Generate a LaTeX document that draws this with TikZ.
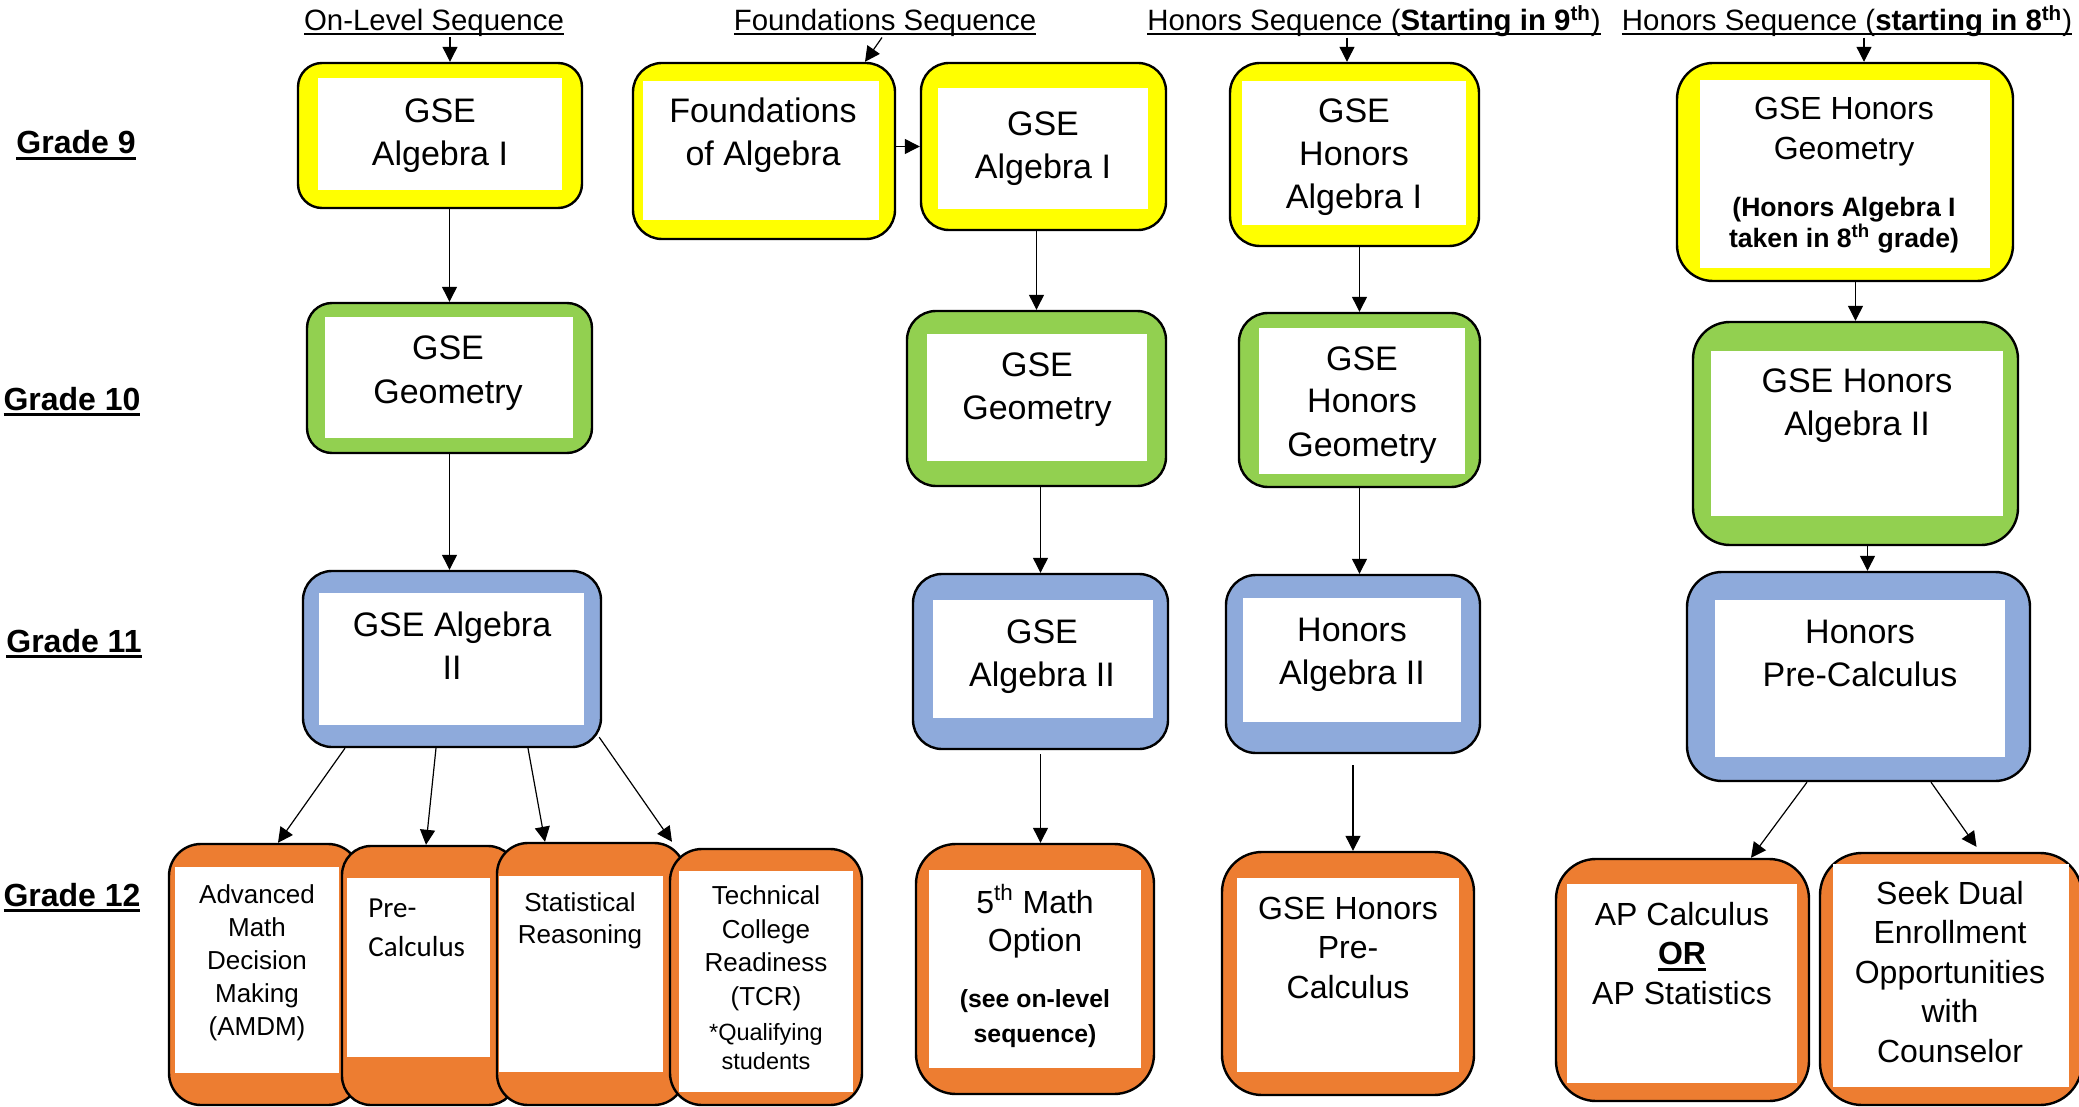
\documentclass[tikz,border=0pt]{standalone}
\usepackage{fontspec}
\setmainfont{Liberation Sans}
\newfontfamily\calfont{Carlito}
\usetikzlibrary{fit,arrows.meta}
\definecolor{gsyellow}{HTML}{FFFF00}
\definecolor{gsgreen}{HTML}{92D050}
\definecolor{gsblue}{HTML}{8EAADB}
\definecolor{gsorange}{HTML}{ED7D31}
\newsavebox\ulbox
\newcommand\ulx[3]{\sbox\ulbox{#3}\rlap{\rule[-#1]{\wd\ulbox}{#2}}\usebox\ulbox}
\newcommand\headul[1]{\ulx{2.2pt}{1pt}{#1}}
\newcommand\gradeul[1]{\ulx{3pt}{1.3pt}{#1}}
\newcommand\orul[1]{\ulx{3.2pt}{1.5pt}{#1}}
\tikzset{
	course/.style n args={2}{draw=black, line width=1.2pt, fill=#1, rounded corners=#2, inner sep=0pt},
	pane/.style={fill=white, inner sep=0pt},
	txt/.style={align=center, anchor=base, inner sep=0pt, font=\fontsize{17}{21.5}\selectfont},
	small/.style={txt, font=\fontsize{13}{16.5}\selectfont},
	lower/.style={txt, font=\fontsize{16}{19.75}\selectfont},
	note/.style={txt, font=\bfseries\fontsize{13.3}{15.5}\selectfont},
	head/.style={anchor=base, inner sep=0pt, font=\fontsize{14.7}{17}\selectfont},
	grade/.style={anchor=base, inner sep=0pt, font=\bfseries\fontsize{16}{19}\selectfont},
	arr/.style={-{Triangle[length=7.5pt,width=7.5pt]}, line width=0.6pt},
}

\begin{document}
\begin{tikzpicture}[x=0.5pt,y=-0.5pt]
	\useasboundingbox (0,0) rectangle (2079,1107);

	% sequence headings
	\node[head] (hol) at (434,31) {\headul{On-Level Sequence}};
	\node[head] (hfd) at (885,31) {\headul{Foundations Sequence}};
	\node[head] (hh9) at (1374,31) {\headul{Honors Sequence (\textbf{Starting in 9\textsuperscript{th}})}};
	\node[head] (hh8) at (1847,31) {\headul{Honors Sequence (\textbf{starting in 8\textsuperscript{th}})}};

	% grade labels
	\node[grade] (gr9) at (76,154) {\gradeul{Grade 9}};
	\node[grade] (gr10) at (72,410) {\gradeul{Grade 10}};
	\node[grade] (gr11) at (74,652) {\gradeul{Grade 11}};
	\node[grade] (gr12) at (72,906) {\gradeul{Grade 12}};

	% grade 9 (text placed at the baseline of its last line)
	\node[course={gsyellow}{12pt}, fit={(298,63) (582,208)}] (alg1) {};
	\node[pane, fit={(318,78) (562,190)}] (alg1w) {};
	\node[txt] (alg1t) at (440,166) {GSE\\Algebra I};

	\node[course={gsyellow}{14.5pt}, fit={(633,63) (895,239)}] (fnd) {};
	\node[pane, fit={(643,81) (879,220)}] (fndw) {};
	\node[txt] (fndt) at (763,166) {Foundations\\of Algebra};

	\node[course={gsyellow}{14pt}, fit={(921,63) (1166,230)}] (falg1) {};
	\node[pane, fit={(938,88) (1148,209)}] (falg1w) {};
	\node[txt] (falg1t) at (1043,179) {GSE\\Algebra I};

	\node[course={gsyellow}{15pt}, fit={(1230,63) (1479,246)}] (halg1) {};
	\node[pane, fit={(1242,81) (1466,225)}] (halg1w) {};
	\node[txt] (halg1t) at (1354,209) {GSE\\Honors\\Algebra I};

	\node[course={gsyellow}{18pt}, fit={(1677,63) (2013,281)}] (hgeo8) {};
	\node[pane, fit={(1700,80) (1990,268)}] (hgeo8w) {};
	\node[txt, font=\fontsize{16}{20}\selectfont] (hgeo8t) at (1844,160) {GSE Honors\\Geometry};
	\node[note] (hgeo8n) at (1844,248) {(Honors Algebra I\\taken in 8\textsuperscript{th} grade)};

	% grade 10
	\node[course={gsgreen}{12.5pt}, fit={(307,303) (592,453)}] (geo) {};
	\node[pane, fit={(325,317) (573,438)}] (geow) {};
	\node[txt] (geot) at (448,403) {GSE\\Geometry};

	\node[course={gsgreen}{14.5pt}, fit={(907,311) (1166,486)}] (fgeo) {};
	\node[pane, fit={(927,334) (1147,461)}] (fgeow) {};
	\node[txt] (fgeot) at (1037,420) {GSE\\Geometry};

	\node[course={gsgreen}{14.5pt}, fit={(1239,313) (1480,487)}] (hgeo) {};
	\node[pane, fit={(1259,328) (1465,474)}] (hgeow) {};
	\node[txt] (hgeot) at (1362,456) {GSE\\Honors\\Geometry};

	\node[course={gsgreen}{18.5pt}, fit={(1693,322) (2018,545)}] (halg2h) {};
	\node[pane, fit={(1711,351) (2003,516)}] (halg2hw) {};
	\node[txt] (halg2ht) at (1857,436) {GSE Honors\\Algebra II};

	% grade 11
	\node[course={gsblue}{14.5pt}, fit={(303,571) (601,747)}] (alg2) {};
	\node[pane, fit={(319,593) (584,725)}] (alg2w) {};
	\node[txt] (alg2t) at (452,679) {GSE Algebra\\II};

	\node[course={gsblue}{14.5pt}, fit={(913,574) (1168,749)}] (falg2) {};
	\node[pane, fit={(933,600) (1153,718)}] (falg2w) {};
	\node[txt] (falg2t) at (1042,686) {GSE\\Algebra II};

	\node[course={gsblue}{15pt}, fit={(1226,575) (1480,753)}] (halg2) {};
	\node[pane, fit={(1243,598) (1461,722)}] (halg2w) {};
	\node[txt] (halg2t) at (1352,684) {Honors\\Algebra II};

	\node[course={gsblue}{17.5pt}, fit={(1687,572) (2030,781)}] (hpre) {};
	\node[pane, fit={(1715,600) (2005,757)}] (hprew) {};
	\node[txt] (hpret) at (1860,686) {Honors\\Pre-Calculus};

	% grade 12
	\node[course={gsorange}{16pt}, fit={(169,844) (360,1105)}] (amdm) {};
	\node[pane, fit={(175,867) (339,1073)}] (amdmw) {};
	\node[small] (amdmt) at (257,1035) {Advanced\\Math\\Decision\\Making\\(AMDM)};

	\node[course={gsorange}{14.5pt}, fit={(342,846) (517,1105)}] (pre) {};
	\node[pane, fit={(347,878) (490,1057)}] (prew) {};
	\node[align=left, anchor=base west, inner sep=0pt, font=\calfont\fontsize{14.5}{19.5}\selectfont] (pret) at (368,956) {Pre-\\Calculus};

	\node[course={gsorange}{15.5pt}, fit={(497,843) (685,1105)}] (stat) {};
	\node[pane, fit={(499,876) (663,1072)}] (statw) {};
	\node[small, font=\fontsize{13}{16}\selectfont] (statt) at (580,943) {Statistical\\Reasoning};

	\node[course={gsorange}{16pt}, fit={(670,849) (862,1105)}] (tcr) {};
	\node[pane, fit={(679,871) (853,1092)}] (tcrw) {};
	\node[small, font=\fontsize{13}{16.7}\selectfont] (tcrt) at (766,1005) {Technical\\College\\Readiness\\(TCR)};
	\node[small, font=\fontsize{11.75}{14.5}\selectfont] (tcrn) at (766,1069) {*Qualifying\\students};

	\node[course={gsorange}{20pt}, fit={(916,844) (1154,1094)}] (fifth) {};
	\node[pane, fit={(929,870) (1141,1068)}] (fifthw) {};
	\node[lower, font=\fontsize{16}{19}\selectfont] (fiftht) at (1035,951) {5\textsuperscript{th} Math\\Option};
	\node[note, font=\bfseries\fontsize{12.4}{17.5}\selectfont] (fifthn) at (1035,1042) {(see on-level\\sequence)};

	\node[course={gsorange}{20pt}, fit={(1222,852) (1474,1095)}] (hpre12) {};
	\node[pane, fit={(1237,878) (1459,1072)}] (hpre12w) {};
	\node[lower] (hpre12t) at (1348,998) {GSE Honors\\Pre-\\Calculus};

	\node[course={gsorange}{20pt}, fit={(1556,859) (1809,1101)}] (ap) {};
	\node[pane, fit={(1567,884) (1797,1083)}] (apw) {};
	\node[lower] (apt) at (1682,1004) {AP Calculus\\\orul{\textbf{OR}}\\AP Statistics};

	\node[course={gsorange}{21pt}, fit={(1820,853) (2082,1105)}] (dual) {};
	\node[pane, fit={(1833,864) (2069,1087)}] (dualw) {};
	\node[lower] (dualt) at (1950,1062) {Seek Dual\\Enrollment\\Opportunities\\with\\Counselor};

	% connectors
	\draw[arr] ([xshift=8pt]hol.south) -- ([xshift=5pt]alg1.north);
	\draw[arr] ([xshift=-1.5pt]hfd.south) -- ([xshift=50.5pt]fnd.north);
	\draw[arr] ([xshift=-13.5pt]hh9.south) -- ([xshift=-3.75pt]halg1.north);
	\draw[arr] ([xshift=8.5pt]hh8.south) -- ([xshift=9.5pt]hgeo8.north);
	\draw[arr] (fnd.east |- falg1) -- (falg1.west);

	\draw[arr] (alg1.south -| geo.north) -- (geo.north);
	\draw[arr] (geo.south) -- (geo.south |- alg2.north);
	\draw[arr] (falg1.south -| fgeo.north) -- (fgeo.north);
	\draw[arr] (fgeo.south -| falg2.north) -- (falg2.north);
	\draw[arr] ([yshift=-2pt]falg2.south) -- (falg2.south |- fifth.north);
	\draw[arr] (halg1.south -| hgeo.north) -- (hgeo.north);
	\draw[arr] (hgeo.south) -- (hgeo.south |- halg2.north);
	\draw[arr] ([yshift=-5.5pt]halg2.south) -- (halg2.south |- hpre12.north);
	\draw[arr] (hgeo8.south -| halg2h.north) -- (halg2h.north);
	\draw[arr] ([xshift=6pt]halg2h.south) -- ([xshift=6pt]halg2h.south |- hpre.north);

	\draw[arr] ([xshift=-53.5pt]alg2.south) -- ([xshift=6.75pt]amdm.north);
	\draw[arr] ([xshift=-8pt]alg2.south) -- ([xshift=-1.75pt]pre.north);
	\draw[arr] ([xshift=38pt]alg2.south) -- ([xshift=-23pt]stat.north);
	\draw[arr] ([xshift=-1.5pt,yshift=5.5pt]alg2.south east) -- ([xshift=-47pt,yshift=3pt]tcr.north);
	\draw[arr] ([xshift=-25.75pt]hpre.south) -- ([xshift=34.25pt]ap.north);
	\draw[arr] ([xshift=36.25pt]hpre.south) -- ([xshift=12.75pt,yshift=2.5pt]dual.north);
\end{tikzpicture}
\end{document}
